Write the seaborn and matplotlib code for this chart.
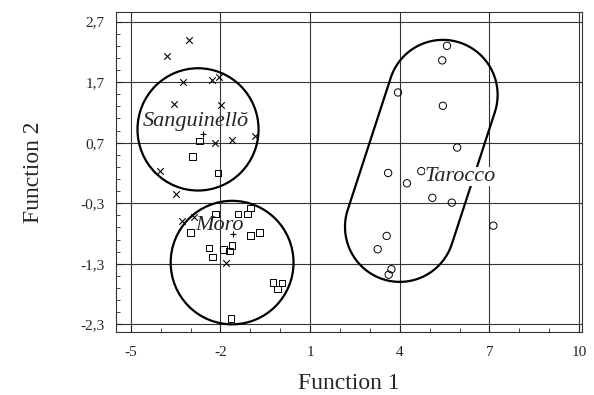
import numpy as np
import pandas as pd
import matplotlib
matplotlib.use("Agg")
import matplotlib.pyplot as plt
import seaborn as sns
from matplotlib.patches import Ellipse
from matplotlib.ticker import MultipleLocator, FixedLocator, FuncFormatter

# Sanguinello samples (x)
sang_x = [-3.06, -3.80, -3.26, -2.28, -2.06, -3.56, -1.98, -0.83, -2.19, -1.61, -4.02, -3.50, -3.28, -2.90, -1.80]
sang_y = [2.40, 2.13, 1.71, 1.74, 1.78, 1.34, 1.33, 0.81, 0.69, 0.74, 0.23, -0.15, -0.59, -0.52, -1.29]
# Moro samples (squares)
moro_x = [-2.70, -2.94, -2.08, -2.17, -1.42, -1.09, -1.00, -3.00, -1.00, -0.69, -2.39, -1.89, -1.61, -1.69, -2.26, -0.24, 0.06, -0.09, -1.64]
moro_y = [0.73, 0.47, 0.20, -0.48, -0.48, -0.48, -0.38, -0.78, -0.83, -0.78, -1.04, -1.06, -1.00, -1.09, -1.19, -1.61, -1.62, -1.72, -2.20]
# Tarocco samples (circles)
tar_x = [5.58, 5.42, 3.94, 5.44, 5.92, 3.61, 4.72, 4.24, 5.09, 5.74, 7.13, 3.56, 3.26, 3.72, 3.63]
tar_y = [2.30, 2.06, 1.53, 1.31, 0.62, 0.20, 0.23, 0.03, -0.21, -0.29, -0.67, -0.84, -1.06, -1.39, -1.48]
# group centroids (+)
cen_x = [-2.58, -1.58]
cen_y = [0.84, -0.80]

x_ticks = [-5, -2, 1, 4, 7, 10]
y_ticks = [2.7, 1.7, 0.7, -0.3, -1.3, -2.3]

sns.set_style("ticks")
plt.rcParams['font.family'] = ['Liberation Serif', 'DejaVu Serif']
plt.rcParams['axes.unicode_minus'] = False

fig = plt.figure(figsize=(5.94, 3.95), dpi=100)
ax = fig.add_axes([0.195, 0.159, 0.785, 0.81])

sns.scatterplot(x=sang_x, y=sang_y, marker='x', color='black', s=22, linewidth=0.8, ax=ax, zorder=4)
sns.scatterplot(x=moro_x, y=moro_y, marker='s', facecolor='none', edgecolor='black', s=22, linewidth=0.7, ax=ax, zorder=4)
sns.scatterplot(x=tar_x, y=tar_y, marker='o', facecolor='none', edgecolor='black', s=28, linewidth=0.7, ax=ax, zorder=4)
sns.scatterplot(x=cen_x, y=cen_y, marker='+', color='black', s=22, linewidth=0.8, ax=ax, zorder=4)

# group regions
ax.add_patch(Ellipse((-2.75, 0.92), 4.05, 2.02, fill=False, lw=1.6, color='black', zorder=3))
ax.add_patch(Ellipse((-1.61, -1.28), 4.11, 2.04, fill=False, lw=1.6, color='black', zorder=3))

def capsule(ax, p0, p1, r, sx=30.0, sy=60.5):
    # rounded region drawn in pixel-like units, then mapped back to data
    a = np.array([p0[0] * sx, p0[1] * sy])
    b = np.array([p1[0] * sx, p1[1] * sy])
    ang = np.arctan2(*(b - a)[::-1])
    t1 = np.linspace(ang - np.pi / 2, ang + np.pi / 2, 80)
    t2 = np.linspace(ang + np.pi / 2, ang + 3 * np.pi / 2, 80)
    pts = np.vstack([b + r * np.c_[np.cos(t1), np.sin(t1)],
                     a + r * np.c_[np.cos(t2), np.sin(t2)]])
    pts = np.vstack([pts, pts[:1]])
    ax.plot(pts[:, 0] / sx, pts[:, 1] / sy, color='black', lw=1.6, zorder=3)

capsule(ax, (4.0, -0.69), (5.44, 1.49), 55)

lab = dict(family='Liberation Serif', style='italic', fontsize=16, ha='center', va='center', zorder=5)
ax.text(-2.83, 1.05, "Sanguinellŏ", **lab)
ax.text(-2.02, -0.66, "Moro", **lab)
ax.text(6.03, 0.14, "Tarocco", bbox=dict(facecolor='white', edgecolor='none', pad=0), **lab)

ax.set_xlim(-5.5, 10.1)
ax.set_ylim(-2.43, 2.855)
ax.xaxis.set_major_locator(FixedLocator(x_ticks))
ax.yaxis.set_major_locator(FixedLocator(y_ticks))
ax.xaxis.set_minor_locator(MultipleLocator(1))
ax.yaxis.set_minor_locator(FixedLocator(np.arange(-2.3, 2.8, 0.2)))
ax.yaxis.set_major_formatter(FuncFormatter(lambda v, p: f"{v:.1f}".replace('.', ',')))
ax.grid(True, which='major', color='#333333', lw=0.8)
ax.tick_params(which='both', direction='in', labelsize=11, top=False, right=False)
ax.tick_params(which='major', length=4, width=0.8)
ax.tick_params(which='minor', length=3, width=0.6)
ax.tick_params(axis='x', pad=10)
ax.tick_params(axis='y', pad=8)
for sp in ax.spines.values():
    sp.set_color('#333333')
    sp.set_linewidth(0.8)

ax.set_xlabel("Function 1", fontsize=17, labelpad=10)
ax.set_ylabel("Function 2", fontsize=17, labelpad=26)

fig.savefig("out.png", dpi=100)
